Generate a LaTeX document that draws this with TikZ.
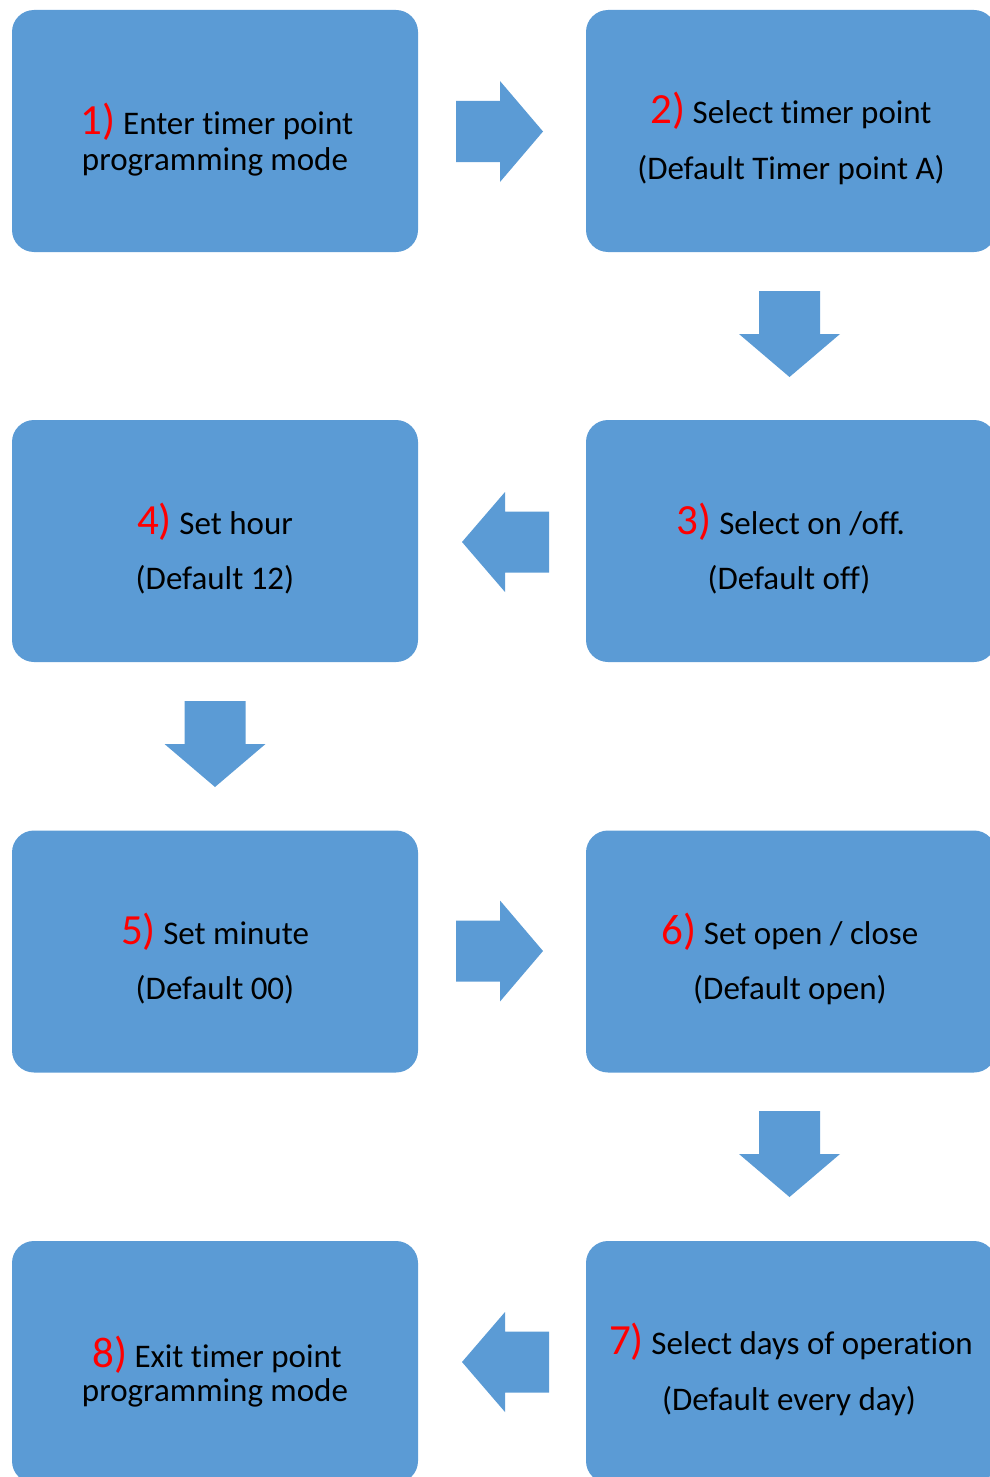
\documentclass[tikz,border=0pt]{standalone}
\usepackage{fontspec}
\setmainfont{Carlito}[Ligatures=NoCommon]
\definecolor{boxblue}{HTML}{5B9BD5}
\newcommand{\nm}[1]{\textcolor{red}{\fontsize{43}{44}\selectfont #1}}
\begin{document}
\begin{tikzpicture}[x=1pt,y=-1pt,
  box/.style={fill=boxblue, draw=none, rounded corners=22pt, minimum width=406pt, minimum height=242pt, inner sep=0pt},
  rbox/.style={box, minimum width=410pt},
  txt/.style={anchor=base, inner sep=0pt, font=\fontsize{33}{38}\selectfont},
  pics/rarrow/.style={code={\fill[boxblue] (-44,-30.5) -- (0,-30.5) -- (0,-50.5) -- (43,0) -- (0,50.5) -- (0,30.5) -- (-44,30.5) -- cycle;}},
  pics/larrow/.style={code={\fill[boxblue] (44,-30.5) -- (0,-30.5) -- (0,-50) -- (-43,0) -- (0,50) -- (0,30.5) -- (44,30.5) -- cycle;}},
  pics/darrow/.style={code={\fill[boxblue] (-30.5,-43) -- (30.5,-43) -- (30.5,0) -- (50.5,0) -- (0,43) -- (-50.5,0) -- (-30.5,0) -- cycle;}}
]
\useasboundingbox (0,0) rectangle (990,1477);
\begin{scope}
\clip (0,0) rectangle (990,1477);
% boxes
\node[box]  (b1) at (215,131)  {};
\node[rbox] (b2) at (791,131)  {};
\node[rbox] (b3) at (791,541)  {};
\node[box]  (b4) at (215,541)  {};
\node[box]  (b5) at (215,951.5) {};
\node[rbox] (b6) at (791,951.5) {};
\node[rbox] (b7) at (791,1362) {};
\node[box]  (b8) at (215,1362) {};
\end{scope}
% arrows
\pic (a12) at (500,131.5) {rarrow};
\pic (a23) at (789.5,334) {darrow};
\pic (a34) at (505,542) {larrow};
\pic (a45) at (215,744) {darrow};
\pic (a56) at (500,951) {rarrow};
\pic (a67) at (789.5,1154) {darrow};
\pic (a78) at (505,1362) {larrow};
% texts
\node[txt] (t1a) at (217,135) {\nm{1)} Enter timer point};
\node[txt] (t1b) at (215,170) {programming mode};
\node[txt] (t2a) at (791,124) {\nm{2)} Select timer point};
\node[txt] (t2b) at (791,179) {(Default Timer point A)};
\node[txt] (t3a) at (791,534) {\nm{3)} Select on /off.};
\node[txt] (t3b) at (789,589) {(Default off)};
\node[txt] (t4a) at (215,534) {\nm{4)} Set hour};
\node[txt] (t4b) at (215,589) {(Default 12)};
\node[txt] (t5a) at (215,944) {\nm{5)} Set minute};
\node[txt] (t5b) at (215,999) {(Default 00)};
\node[txt] (t6a) at (790,944) {\nm{6)} Set open / close};
\node[txt] (t6b) at (790,999) {(Default open)};
\node[txt] (t7a) at (791,1354) {\nm{7)} Select days of operation};
\node[txt] (t7b) at (789,1410) {(Default every day)};
\node[txt] (t8a) at (217,1367) {\nm{8)} Exit timer point};
\node[txt] (t8b) at (215,1401) {programming mode};
\end{tikzpicture}
\end{document}
